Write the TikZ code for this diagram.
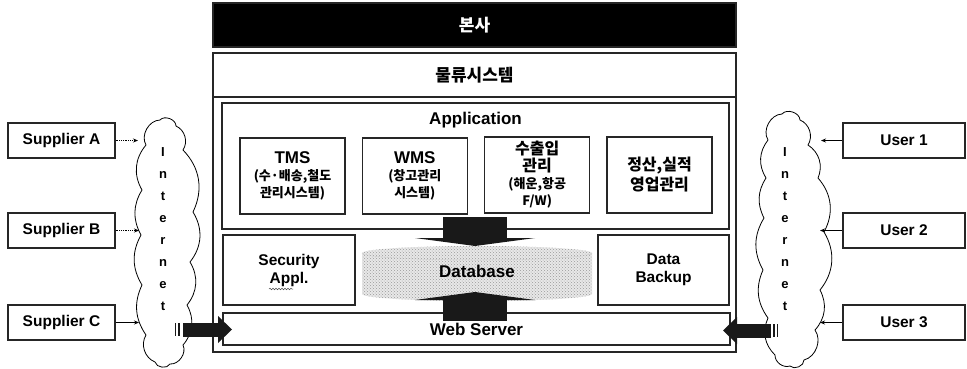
\documentclass[tikz,border=0pt]{standalone}
\usepackage{fontspec}
\setmainfont{Liberation Sans}
\newfontfamily\krfont{Noto Sans CJK KR}
\usetikzlibrary{patterns,arrows.meta,decorations.pathmorphing}

% font presets
\newcommand{\fLbl}{\fontsize{15.5}{18}\selectfont\bfseries}
\newcommand{\fBig}{\fontsize{17}{19}\selectfont\bfseries}
\newcommand{\fKrTitle}{\krfont\fontsize{17}{19}\selectfont\bfseries}
\newcommand{\fKrMid}{\krfont\fontsize{16}{18}\selectfont\bfseries}
\newcommand{\fKrSmall}{\krfont\fontsize{13}{15}\selectfont\bfseries}
\newcommand{\fNet}{\fontsize{13}{22}\selectfont\bfseries}

\tikzset{
  box/.style={draw=black!85, line width=1.1pt, fill=white, inner sep=0pt, align=center},
  cloudline/.style={draw=black, line width=0.8pt, fill=white},
  puff/.style={bend left=#1},
  thinarrow/.style={draw=black, line width=0.8pt, -{Stealth[length=5pt,width=4pt]}},
  fat/.style={fill=black!90},
}

\begin{document}
\begin{tikzpicture}[x=1pt,y=-1pt]
\useasboundingbox (0,0) rectangle (967,368);

% ---------- headquarters block ----------
\node[box, fill=black, minimum width=523, minimum height=44, text=white, font=\fKrTitle] (hq) at (474.5,25) {본사};
\node[box, fill=none, minimum width=523, minimum height=299] (frame) at (474.5,202.5) {};
\node[box, fill=none, minimum width=523, minimum height=44, font=\fKrTitle] (lsys) at (474.5,75) {물류시스템};

% application layer
\node[box, minimum width=507, minimum height=126] (app) at (475.5,166) {};
\node[font=\fBig] (apptitle) at (475.5,120) {Application};

\node[box, minimum width=105, minimum height=76, font=\fontsize{13}{17}\selectfont] (tms) at (292.5,176)
  {{\fBig TMS}\\{\fKrSmall (수·배송,철도}\\{\fKrSmall 관리시스템)}};
\node[box, minimum width=105, minimum height=76, font=\fontsize{13}{17}\selectfont] (wms) at (414.8,176)
  {{\fBig WMS}\\{\fKrSmall (창고관리}\\{\fKrSmall 시스템)}};
\node[box, minimum width=105, minimum height=76, font=\fontsize{13}{17}\selectfont] (trade) at (537.2,175)
  {{\fKrMid 수출입}\\{\fKrMid 관리}\\{\fKrSmall (해운,항공}\\{\fKrSmall F/W)}};
\node[box, minimum width=105, minimum height=76, font=\fontsize{16}{20}\selectfont] (settle) at (659.5,175)
  {{\fKrMid 정산,실적}\\{\fKrMid 영업관리}};

% middle layer
\node[box, minimum width=132, minimum height=70, font=\fLbl] (sec) at (289,270) {Security\\Appl.};
\node[box, minimum width=131, minimum height=70, font=\fLbl] (backup) at (663.5,270) {Data\\Backup};
\draw[black!70, line width=0.5pt, decorate, decoration={snake, amplitude=0.8pt, segment length=3pt}]
  ([xshift=-20pt,yshift=-19pt]sec.center) -- ([xshift=4pt,yshift=-19pt]sec.center);

% web server
\node[box, minimum width=507, minimum height=32, font=\fBig] (web) at (476.5,329) {Web Server};

% database cylinder
\path[fill=gray!18] (362,253) -- (362,294) arc[start angle=180, end angle=0, x radius=115, y radius=7]
  -- (592,253) arc[start angle=0, end angle=-180, x radius=115, y radius=7] -- cycle;
\path[pattern=crosshatch dots, pattern color=gray!80] (362,253) -- (362,294) arc[start angle=180, end angle=0, x radius=115, y radius=7]
  -- (592,253) arc[start angle=0, end angle=-180, x radius=115, y radius=7] -- cycle;
\draw[gray!60, line width=0.5pt, densely dotted] (362,253) arc[start angle=180, end angle=0, x radius=115, y radius=7];

% block arrows between application, database and web server
\coordinate (dbtop) at (475,246);
\coordinate (dbbot) at (475,292);
\fill[fat] (443,217) rectangle (507,238);
\fill[fat] (415,238) -- (535,238) -- (dbtop) -- cycle;
\fill[fat] (443,300) rectangle (507,321);
\fill[fat] (415,300) -- (535,300) -- (dbbot) -- cycle;
\node[font=\fBig] (db) at (477,271) {Database};

% ---------- internet clouds ----------
\draw[cloudline] (146,145) to[puff=60] (160,120) to[puff=70] (176,126) to[puff=50] (183,150)
  to[puff=35] (193,212) to[puff=35] (190,262) to[puff=35] (187,305) to[puff=35] (183,345)
  to[puff=60] (170,364) to[puff=70] (155,362) to[puff=50] (146,335) to[puff=30] (142,285)
  to[puff=30] (141,235) to[puff=30] (142,190) to[puff=35] (146,145) -- cycle;
\draw[cloudline] (768,140) to[puff=60] (782,114) to[puff=70] (800,120) to[puff=50] (808,145)
  to[puff=40] (818,178) to[puff=35] (824,232) to[puff=35] (820,290) to[puff=35] (815,330)
  to[puff=55] (804,360) to[puff=70] (790,366) to[puff=55] (775,355) to[puff=35] (768,318)
  to[puff=30] (763,270) to[puff=30] (764,218) to[puff=30] (766,178) to[puff=35] (768,140) -- cycle;
\node[font=\fNet, align=center, inner sep=0pt] (txtL) at (163,229) {I\\n\\t\\e\\r\\n\\e\\t};
\node[font=\fNet, align=center, inner sep=0pt] (txtR) at (785,229) {I\\n\\t\\e\\r\\n\\e\\t};

% fat arrows from the clouds into the web server
\coordinate (tipL) at (232,329.5);
\coordinate (tipR) at (723,330.5);
\fill[fat] (183,322.5) rectangle (218,336.5);
\fill[fat] (218,316) -- (tipL) -- (218,343) -- cycle;
\fill[fat] (174.5,323) rectangle (176,336);
\fill[fat] (178,323) rectangle (179.5,336);
\fill[fat] (737,323.5) rectangle (771,337.5);
\fill[fat] (737,317) -- (tipR) -- (737,344) -- cycle;
\fill[fat] (773,324) rectangle (774.5,337);
\fill[fat] (776.5,324) rectangle (778,337);

% ---------- suppliers ----------
\node[box, minimum width=107, minimum height=35, font=\fLbl] (supA) at (61.5,140.5) {Supplier A};
\node[box, minimum width=107, minimum height=35, font=\fLbl] (supB) at (61.5,230.5) {Supplier B};
\node[box, minimum width=107, minimum height=35, font=\fLbl] (supC) at (61.5,322.5) {Supplier C};
\coordinate (inA) at (138,140.5);
\coordinate (inB) at (139,230.5);
\coordinate (inC) at (139,322.5);
\draw[thinarrow, densely dotted] (supA.east) -- (inA);
\draw[thinarrow, densely dotted] (supB.east) -- (inB);
\draw[thinarrow] (supC.east) -- (inC);

% ---------- users ----------
\node[box, minimum width=122, minimum height=35, font=\fLbl] (usr1) at (904,140.5) {User 1};
\node[box, minimum width=122, minimum height=35, font=\fLbl] (usr2) at (904,230.5) {User 2};
\node[box, minimum width=122, minimum height=35, font=\fLbl] (usr3) at (904,322.5) {User 3};
\coordinate (in1) at (821,140.5);
\coordinate (in2) at (820,230.5);
\coordinate (in3) at (820,322.5);
\draw[thinarrow] (usr1.west) -- (in1);
\draw[thinarrow] (usr2.west) -- (in2);
\draw[thinarrow] (usr3.west) -- (in3);
\end{tikzpicture}
\end{document}
